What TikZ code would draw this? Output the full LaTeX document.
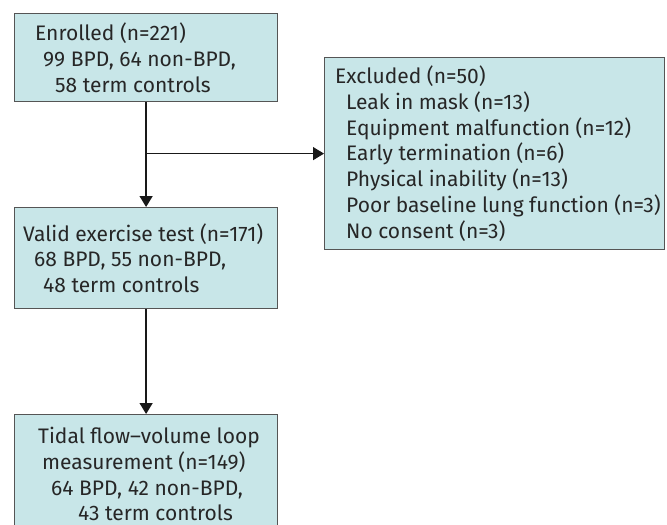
\documentclass[tikz,border=0pt]{standalone}
\usepackage{fontspec}
\setmainfont{Fira Sans}
\usetikzlibrary{arrows.meta}
\definecolor{boxfill}{HTML}{C8E6E8}
\definecolor{boxline}{HTML}{555555}
\begin{document}
\begin{tikzpicture}[x=1pt,y=-1pt,
  box/.style={draw=boxline, line width=1.2pt, fill=boxfill, anchor=north west, inner sep=0pt},
  txt/.style={anchor=west, align=left, inner sep=0pt, font=\fontsize{21}{25.7}\selectfont, text=black!85},
  arr/.style={-{Triangle[width=13pt,length=11pt]}, line width=1.3pt, black!90}]
\useasboundingbox (0,0) rectangle (667,525);
\clip (0,0) rectangle (667,525);
\node[box, minimum width=263pt, minimum height=88pt] (enr) at (14,13) {};
\node[txt] (enrT) at ([xshift=21pt]enr.west)
  {Enrolled (n=221)\\\hspace*{8pt}99 BPD, 64 non-BPD,\\\hspace*{20pt}58 term controls};
\node[box, minimum width=263pt, minimum height=101pt] (val) at (14,207) {};
\node[txt] (valT) at ([xshift=9pt]val.west)
  {Valid exercise test (n=171)\\\hspace*{11pt}68 BPD, 55 non-BPD,\\\hspace*{20pt}48 term controls};
\node[box, minimum width=263pt, minimum height=119pt] (tid) at (14,414) {};
\node[txt] (tidT) at ([xshift=24pt]tid.west)
  {Tidal flow--volume loop\\\hspace*{4pt}measurement (n=149)\\\hspace*{13pt}64 BPD, 42 non-BPD,\\\hspace*{40pt}43 term controls};
\node[box, minimum width=340pt, minimum height=192pt] (excl) at (324,57) {};
\node[txt] (exclT) at ([xshift=11pt]excl.west)
  {Excluded (n=50)\\\hspace*{11pt}Leak in mask (n=13)\\\hspace*{11pt}Equipment malfunction (n=12)\\\hspace*{11pt}Early termination (n=6)\\\hspace*{11pt}Physical inability (n=13)\\\hspace*{11pt}Poor baseline lung function (n=3)\\\hspace*{11pt}No consent (n=3)};
\coordinate (br) at (enr.south |- excl.west);
\draw[arr] (enr.south) -- (val.north);
\draw[arr] (br) -- (excl.west);
\draw[arr] (val.south) -- (tid.north);
\end{tikzpicture}
\end{document}
